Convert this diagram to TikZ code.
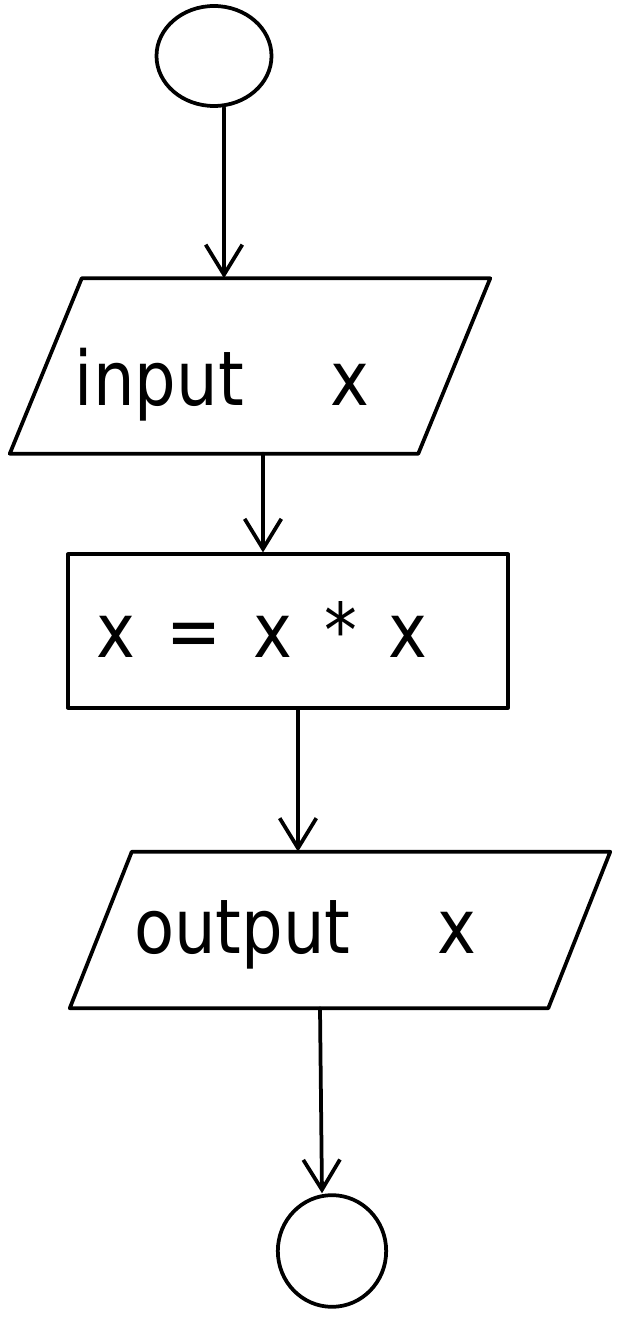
\documentclass[tikz,border=0pt]{standalone}
\usepackage{fontspec}
\setmainfont{DejaVu Sans}
\usetikzlibrary{shapes.geometric,arrows.meta,calc}
\begin{document}
\begin{tikzpicture}[x=0.03cm,y=0.03cm,
  stroke/.style={line width=3.2pt, line cap=round, line join=round},
  terminal/.style={stroke, draw, ellipse, inner sep=0pt},
  frame/.style={inner sep=0pt},
  process/.style={stroke, draw, rectangle, inner sep=0pt},
  txt/.style={font=\fontsize{56}{64}\selectfont, inner sep=0pt, yscale=1.15},
  flow/.style={stroke, -{Straight Barb[length=0.9cm,width=1.1cm,line width=3.2pt]}}]
\useasboundingbox (0,0) rectangle (621,1333);

% terminals and process box
\node[terminal, minimum width=3.45cm, minimum height=3cm] (start) at (214,1277) {};
\node[process, minimum width=13.2cm, minimum height=4.6cm] (calc) at (288,702) {};
\node[terminal, minimum width=3.25cm, minimum height=3.35cm] (stop) at (332,82) {};

% input/output parallelograms: a bounding node, outline drawn from its corners
\node[frame, minimum width=14.4cm, minimum height=5.25cm] (in) at (250,967) {};
\draw[stroke] (in.south west) -- ($(in.south east)+(-72,0)$) -- (in.north east)
  -- ($(in.north west)+(72,0)$) -- cycle;
\node[frame, minimum width=16.2cm, minimum height=4.68cm] (out) at (340,403) {};
\draw[stroke] (out.south west) -- ($(out.south east)+(-62,0)$) -- (out.north east)
  -- ($(out.north west)+(62,0)$) -- cycle;

% texts
\node[txt] (tin) at (222,948) {input\quad\ x};
\node[txt] (tcalc) at (262,703) {x\ \,=\ \,x\ \,*\ \,x};
\node[txt] (tout) at (305,398) {output\quad\ x};

% connector start points
\coordinate (a1) at ($(start.south)+(10,0)$);
\coordinate (a2) at ($(in.south)+(13,0)$);
\coordinate (a3) at ($(calc.south)+(10,0)$);
\coordinate (a4) at ($(out.south)+(-20,0)$);

% connectors
\draw[flow] (a1) -- (a1 |- in.north);
\draw[flow] (a2) -- (a2 |- calc.north);
\draw[flow] (a3) -- (a3 |- out.north);
\draw[flow] (a4) -- ($(stop.north)+(-10,0)$);
\end{tikzpicture}
\end{document}
